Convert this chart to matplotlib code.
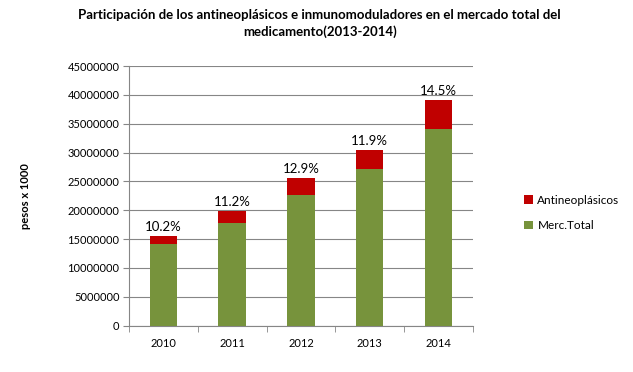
import matplotlib.pyplot as plt
import numpy as np

plt.rcParams['font.family'] = ['Lato', 'DejaVu Sans']

years = ['2010', '2011', '2012', '2013', '2014']
merc_total = [14220000, 17800000, 22660000, 27170000, 34100000]
antineo = [1330000, 2080000, 2950000, 3290000, 5030000]
pct_labels = ['10.2%', '11.2%', '12.9%', '11.9%', '14.5%']

green = '#77933C'
red = '#C00000'

fig = plt.figure(figsize=(6.33, 3.72), dpi=100)
ax = fig.add_axes([0.204, 0.1245, 0.543, 0.698])

x = np.arange(len(years))
ax.bar(x, merc_total, width=0.4, color=green, label='Merc.Total', zorder=3)
ax.bar(x, antineo, width=0.4, bottom=merc_total, color=red, label='Antineoplásicos', zorder=3)

for xi, g, r, lab in zip(x, merc_total, antineo, pct_labels):
    ax.text(xi, g + r + 500000, lab, ha='center', va='bottom', fontsize=9.5)

ax.set_xlim(-0.5, len(years) - 0.5)
ax.set_ylim(0, 45000000)
ax.set_yticks(np.arange(0, 45000001, 5000000))
ax.set_yticklabels([str(v) for v in range(0, 45000001, 5000000)], fontsize=8)
ax.set_xticks(x)
ax.set_xticklabels(years, fontsize=8)
ax.set_xticks(np.arange(-0.5, len(years)), minor=True)
ax.tick_params(axis='x', which='major', length=0, pad=9)
ax.tick_params(axis='x', which='minor', length=4, color='#868686')
ax.tick_params(axis='y', length=4, color='#868686', pad=3)

ax.grid(axis='y', color='#868686', linewidth=0.8, zorder=0)
for s in ['top', 'right']:
    ax.spines[s].set_visible(False)
for s in ['left', 'bottom']:
    ax.spines[s].set_color('#868686')

ax.set_ylabel('pesos x 1000', fontsize=8, fontweight='bold', labelpad=26)

fig.suptitle('Participación de los antineoplásicos e inmunomoduladores en el mercado total del\nmedicamento(2013-2014)',
             x=0.505, y=0.975, fontsize=9.5, fontweight='bold', linespacing=1.4)

handles, labels = ax.get_legend_handles_labels()
ax.legend(handles[::-1], labels[::-1], loc='center left', bbox_to_anchor=(1.15, 0.435),
          frameon=False, fontsize=8.5, handlelength=0.7, handleheight=0.7,
          handletextpad=0.4, labelspacing=1.2, borderpad=0, borderaxespad=0)

fig.savefig('out.png', dpi=100)
